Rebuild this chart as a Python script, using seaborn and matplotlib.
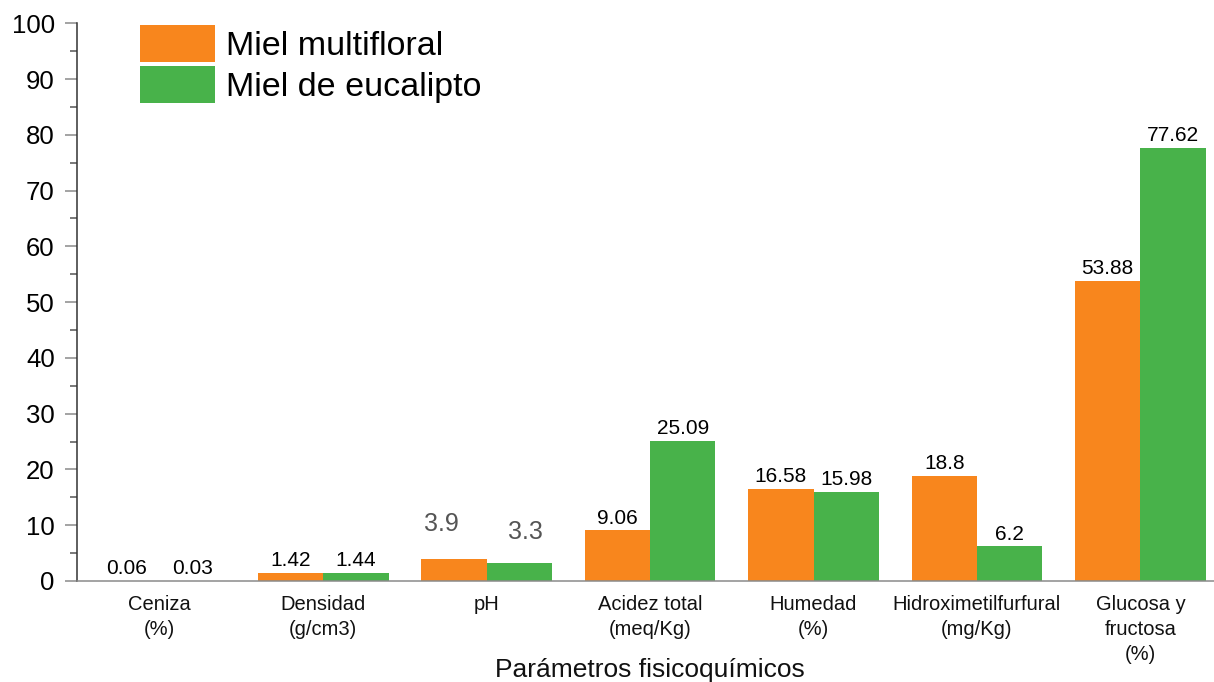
import matplotlib
matplotlib.use("Agg")
import matplotlib.pyplot as plt
from matplotlib.patches import Patch
from matplotlib.ticker import MultipleLocator
import pandas as pd
import seaborn as sns

# Physicochemical parameters of two honeys
categories = [
    "Ceniza\n(%)",
    "Densidad\n(g/cm3)",
    "pH",
    "Acidez total\n(meq/Kg)",
    "Humedad\n(%)",
    "Hidroximetilfurfural\n(mg/Kg)",
    "Glucosa y\nfructosa\n(%)",
]
multifloral = [0.06, 1.42, 3.9, 9.06, 16.58, 18.8, 53.88]
eucalipto = [0.03, 1.44, 3.3, 25.09, 15.98, 6.2, 77.62]
series_names = ["Miel multifloral", "Miel de eucalipto"]
colors = ["#F8861D", "#48B24A"]

df = pd.DataFrame({
    "Parámetro": categories * 2,
    "Valor": multifloral + eucalipto,
    "Miel": [series_names[0]] * len(categories) + [series_names[1]] * len(categories),
})

sns.set_theme(style="white")
plt.rcParams["font.family"] = ["Liberation Sans", "DejaVu Sans"]

fig = plt.figure(figsize=(12.14, 6.82), dpi=100)
ax = fig.add_axes([77 / 1214, 101 / 682, 1137 / 1214, 557.7 / 682])

sns.barplot(data=df, x="Parámetro", y="Valor", hue="Miel", order=categories,
            hue_order=series_names, palette=colors, saturation=1, width=0.8,
            linewidth=0, ax=ax, legend=False, errorbar=None)

ax.set_xlim(-0.506, 6.45)
ax.set_ylim(0, 100)
ax.yaxis.set_major_locator(MultipleLocator(10))
ax.yaxis.set_minor_locator(MultipleLocator(5))

for side in ("top", "right"):
    ax.spines[side].set_visible(False)
ax.spines["left"].set_color("#333333")
ax.spines["left"].set_linewidth(1.1)
ax.spines["bottom"].set_color("#8a8a8a")
ax.spines["bottom"].set_linewidth(1.1)

ax.tick_params(axis="y", which="major", direction="out", length=9, width=1.1,
               color="#8a8a8a", labelsize=18.5, labelcolor="#000000", pad=7, left=True)
ax.tick_params(axis="y", which="minor", direction="out", length=5, width=1.1,
               color="#555555", left=True)
ax.tick_params(axis="x", length=0, labelsize=14.5, labelcolor="#111111", pad=10)
for lbl in ax.get_xticklabels():
    lbl.set_linespacing(1.4)

ax.set_ylabel("")
ax.set_xlabel("Parámetros fisicoquímicos", fontsize=19, color="#111111")
ax.xaxis.set_label_coords(0.504, -0.138)

# Value labels; the pH pair gets its own grey labels
ph_idx = categories.index("pH")
for cont, vals in zip(ax.containers, [multifloral, eucalipto]):
    labels = ["" if i == ph_idx else f"{v:g}" for i, v in enumerate(vals)]
    ax.bar_label(cont, labels=labels, fontsize=15, color="#000000", padding=2)

ph_offsets = [(-9.1, 25.4), (4.3, 22.0)]
for cont, vals, off in zip(ax.containers, [multifloral, eucalipto], ph_offsets):
    bar = cont.patches[ph_idx]
    ax.annotate(f"{vals[ph_idx]:g}", xy=(bar.get_x() + bar.get_width() / 2, bar.get_height()),
                xytext=off, textcoords="offset points", ha="center", va="center",
                fontsize=18, color="#555555")

handles = [Patch(facecolor=c, edgecolor="none") for c in colors]
fig.legend(handles, series_names, loc="upper left", bbox_to_anchor=(140 / 1214, 1 - 25 / 682),
           frameon=False, fontsize=24.5, labelcolor="#000000", handlelength=2.2,
           handleheight=1.3, labelspacing=0.12, handletextpad=0.32,
           borderpad=0, borderaxespad=0)

fig.savefig("out.png", dpi=100)
